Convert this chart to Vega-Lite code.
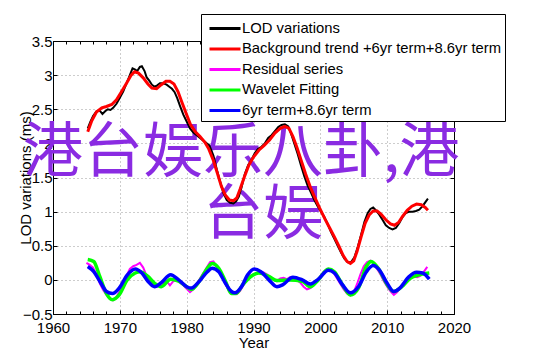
{
  "$schema": "https://vega.github.io/schema/vega-lite/v6.json",
  "width": 401,
  "height": 273,
  "autosize": {"type": "none"},
  "padding": {"left": 53, "top": 41, "right": 88, "bottom": 42},
  "background": "white",
  "config": {
    "view": {"stroke": "black", "strokeWidth": 1},
    "axis": {
      "labelFont": "Liberation Sans", "labelFontSize": 15, "labelColor": "black", "labelFlush": false,
      "titleFont": "Liberation Sans", "titleFontSize": 15, "titleFontWeight": "normal", "titleColor": "black",
      "domainColor": "black", "tickColor": "black", "gridColor": "#9a9a9a", "gridDash": [1, 3]
    },
    "legend": {
      "labelFont": "Liberation Sans", "labelFontSize": 14.8, "labelColor": "black"
    }
  },
  "datasets": {
    "lod": [
      {"year":1965.2,"v":2.22},{"year":1965.6,"v":2.32},{"year":1966.0,"v":2.40},{"year":1966.5,"v":2.47},{"year":1967.0,"v":2.48},{"year":1967.4,"v":2.43},{"year":1967.8,"v":2.47},{"year":1968.2,"v":2.50},{"year":1968.6,"v":2.49},{"year":1969.0,"v":2.52},{"year":1969.5,"v":2.58},{"year":1970.0,"v":2.67},{"year":1970.5,"v":2.76},{"year":1971.0,"v":2.88},{"year":1971.5,"v":3.00},{"year":1971.9,"v":3.10},{"year":1972.3,"v":3.08},{"year":1972.6,"v":3.06},{"year":1973.0,"v":3.12},{"year":1973.3,"v":3.13},{"year":1973.7,"v":3.06},{"year":1974.0,"v":2.97},{"year":1974.4,"v":2.92},{"year":1974.8,"v":2.86},{"year":1975.2,"v":2.83},{"year":1975.6,"v":2.85},{"year":1976.0,"v":2.88},{"year":1976.5,"v":2.88},{"year":1977.0,"v":2.86},{"year":1977.4,"v":2.83},{"year":1977.8,"v":2.80},{"year":1978.2,"v":2.75},{"year":1978.6,"v":2.66},{"year":1979.0,"v":2.55},{"year":1979.5,"v":2.42},{"year":1980.0,"v":2.32},{"year":1980.5,"v":2.22},{"year":1981.0,"v":2.16},{"year":1981.5,"v":2.12},{"year":1982.0,"v":2.08},{"year":1982.5,"v":2.04},{"year":1983.0,"v":2.00},{"year":1983.4,"v":1.97},{"year":1984.0,"v":1.82},{"year":1984.5,"v":1.62},{"year":1985.0,"v":1.44},{"year":1985.5,"v":1.27},{"year":1986.0,"v":1.17},{"year":1986.5,"v":1.13},{"year":1987.0,"v":1.12},{"year":1987.4,"v":1.15},{"year":1987.8,"v":1.22},{"year":1988.2,"v":1.35},{"year":1988.7,"v":1.55},{"year":1989.2,"v":1.68},{"year":1989.7,"v":1.76},{"year":1990.2,"v":1.86},{"year":1990.7,"v":1.92},{"year":1991.2,"v":1.95},{"year":1991.7,"v":2.00},{"year":1992.2,"v":2.08},{"year":1992.7,"v":2.12},{"year":1993.2,"v":2.18},{"year":1993.7,"v":2.24},{"year":1994.2,"v":2.27},{"year":1994.7,"v":2.28},{"year":1995.2,"v":2.25},{"year":1995.6,"v":2.15},{"year":1996.1,"v":2.00},{"year":1996.6,"v":1.85},{"year":1997.1,"v":1.68},{"year":1997.6,"v":1.52},{"year":1998.1,"v":1.38},{"year":1998.6,"v":1.28},{"year":1999.1,"v":1.17},{"year":1999.6,"v":1.08},{"year":2000.1,"v":1.00},{"year":2000.6,"v":0.92},{"year":2001.1,"v":0.82},{"year":2001.6,"v":0.70},{"year":2002.1,"v":0.60},{"year":2002.6,"v":0.50},{"year":2003.1,"v":0.40},{"year":2003.6,"v":0.31},{"year":2004.1,"v":0.26},{"year":2004.6,"v":0.26},{"year":2005.1,"v":0.33},{"year":2005.6,"v":0.48},{"year":2006.1,"v":0.66},{"year":2006.6,"v":0.85},{"year":2007.1,"v":0.98},{"year":2007.5,"v":1.04},{"year":2007.9,"v":1.06},{"year":2008.3,"v":1.02},{"year":2008.8,"v":0.96},{"year":2009.3,"v":0.88},{"year":2009.8,"v":0.80},{"year":2010.3,"v":0.76},{"year":2010.8,"v":0.74},{"year":2011.3,"v":0.76},{"year":2011.8,"v":0.83},{"year":2012.3,"v":0.92},{"year":2012.8,"v":0.98},{"year":2013.3,"v":1.00},{"year":2013.8,"v":1.00},{"year":2014.3,"v":1.01},{"year":2014.8,"v":1.03},{"year":2015.3,"v":1.08},{"year":2015.8,"v":1.15},{"year":2016.1,"v":1.19}
    ],
    "trend": [
      {"year":1965.2,"v":2.17},{"year":1965.8,"v":2.33},{"year":1966.5,"v":2.46},{"year":1967.3,"v":2.52},{"year":1968.0,"v":2.54},{"year":1968.8,"v":2.57},{"year":1969.5,"v":2.64},{"year":1970.2,"v":2.75},{"year":1971.0,"v":2.88},{"year":1971.7,"v":3.00},{"year":1972.2,"v":3.05},{"year":1972.8,"v":3.03},{"year":1973.5,"v":2.96},{"year":1974.2,"v":2.87},{"year":1974.8,"v":2.81},{"year":1975.5,"v":2.80},{"year":1976.2,"v":2.86},{"year":1976.9,"v":2.91},{"year":1977.5,"v":2.91},{"year":1978.1,"v":2.87},{"year":1978.7,"v":2.76},{"year":1979.3,"v":2.60},{"year":1980.0,"v":2.42},{"year":1980.6,"v":2.27},{"year":1981.3,"v":2.17},{"year":1982.0,"v":2.10},{"year":1982.7,"v":2.02},{"year":1983.3,"v":1.92},{"year":1984.0,"v":1.75},{"year":1984.6,"v":1.56},{"year":1985.2,"v":1.37},{"year":1985.8,"v":1.24},{"year":1986.4,"v":1.17},{"year":1987.0,"v":1.16},{"year":1987.5,"v":1.20},{"year":1988.0,"v":1.33},{"year":1988.6,"v":1.50},{"year":1989.3,"v":1.68},{"year":1990.0,"v":1.80},{"year":1990.8,"v":1.90},{"year":1991.6,"v":1.97},{"year":1992.4,"v":2.05},{"year":1993.2,"v":2.15},{"year":1994.0,"v":2.22},{"year":1994.7,"v":2.25},{"year":1995.3,"v":2.22},{"year":1995.9,"v":2.10},{"year":1996.5,"v":1.94},{"year":1997.1,"v":1.76},{"year":1997.8,"v":1.55},{"year":1998.5,"v":1.36},{"year":1999.2,"v":1.20},{"year":1999.9,"v":1.05},{"year":2000.7,"v":0.89},{"year":2001.4,"v":0.76},{"year":2002.1,"v":0.63},{"year":2002.8,"v":0.49},{"year":2003.4,"v":0.36},{"year":2004.0,"v":0.27},{"year":2004.5,"v":0.24},{"year":2005.0,"v":0.28},{"year":2005.5,"v":0.42},{"year":2006.1,"v":0.63},{"year":2006.7,"v":0.83},{"year":2007.3,"v":0.95},{"year":2007.9,"v":1.01},{"year":2008.5,"v":1.01},{"year":2009.1,"v":0.96},{"year":2009.8,"v":0.88},{"year":2010.5,"v":0.82},{"year":2011.1,"v":0.80},{"year":2011.7,"v":0.84},{"year":2012.3,"v":0.93},{"year":2013.0,"v":1.02},{"year":2013.7,"v":1.08},{"year":2014.4,"v":1.11},{"year":2015.1,"v":1.10},{"year":2015.7,"v":1.06},{"year":2016.1,"v":1.02}
    ],
    "resid": [
      {"year":1965.0,"v":0.25},{"year":1965.5,"v":0.22},{"year":1966.0,"v":0.18},{"year":1966.5,"v":0.08},{"year":1967.0,"v":-0.05},{"year":1967.5,"v":-0.15},{"year":1968.0,"v":-0.22},{"year":1968.5,"v":-0.28},{"year":1969.0,"v":-0.30},{"year":1969.5,"v":-0.25},{"year":1970.0,"v":-0.16},{"year":1970.5,"v":-0.06},{"year":1971.0,"v":0.06},{"year":1971.5,"v":0.16},{"year":1972.0,"v":0.20},{"year":1972.5,"v":0.22},{"year":1973.0,"v":0.25},{"year":1973.5,"v":0.18},{"year":1974.0,"v":0.06},{"year":1974.5,"v":-0.02},{"year":1975.0,"v":-0.08},{"year":1975.5,"v":-0.10},{"year":1976.0,"v":-0.08},{"year":1976.5,"v":-0.04},{"year":1977.0,"v":-0.02},{"year":1977.5,"v":-0.08},{"year":1978.0,"v":-0.02},{"year":1978.5,"v":0.00},{"year":1979.0,"v":-0.04},{"year":1979.5,"v":-0.08},{"year":1980.0,"v":-0.13},{"year":1980.5,"v":-0.18},{"year":1981.0,"v":-0.14},{"year":1981.5,"v":-0.06},{"year":1982.0,"v":0.02},{"year":1982.5,"v":0.10},{"year":1983.0,"v":0.18},{"year":1983.5,"v":0.26},{"year":1984.0,"v":0.27},{"year":1984.5,"v":0.20},{"year":1985.0,"v":0.10},{"year":1985.5,"v":0.00},{"year":1986.0,"v":-0.10},{"year":1986.5,"v":-0.19},{"year":1987.0,"v":-0.20},{"year":1987.5,"v":-0.21},{"year":1988.0,"v":-0.16},{"year":1988.5,"v":-0.08},{"year":1989.0,"v":0.00},{"year":1989.5,"v":0.06},{"year":1990.0,"v":0.08},{"year":1990.5,"v":0.10},{"year":1991.0,"v":0.12},{"year":1991.5,"v":0.11},{"year":1992.0,"v":0.08},{"year":1992.5,"v":0.04},{"year":1993.0,"v":0.00},{"year":1993.5,"v":-0.02},{"year":1994.0,"v":0.02},{"year":1994.5,"v":0.03},{"year":1995.0,"v":0.01},{"year":1995.5,"v":0.04},{"year":1996.0,"v":0.03},{"year":1996.5,"v":0.00},{"year":1997.0,"v":-0.04},{"year":1997.5,"v":-0.10},{"year":1998.0,"v":-0.14},{"year":1998.5,"v":-0.12},{"year":1999.0,"v":-0.08},{"year":1999.5,"v":-0.02},{"year":2000.0,"v":0.05},{"year":2000.5,"v":0.12},{"year":2001.0,"v":0.16},{"year":2001.5,"v":0.15},{"year":2002.0,"v":0.10},{"year":2002.5,"v":0.02},{"year":2003.0,"v":-0.06},{"year":2003.5,"v":-0.14},{"year":2004.0,"v":-0.20},{"year":2004.5,"v":-0.23},{"year":2005.0,"v":-0.18},{"year":2005.5,"v":-0.06},{"year":2006.0,"v":0.08},{"year":2006.5,"v":0.20},{"year":2007.0,"v":0.26},{"year":2007.5,"v":0.28},{"year":2008.0,"v":0.24},{"year":2008.5,"v":0.16},{"year":2009.0,"v":0.08},{"year":2009.5,"v":-0.02},{"year":2010.0,"v":-0.10},{"year":2010.5,"v":-0.17},{"year":2011.0,"v":-0.22},{"year":2011.5,"v":-0.18},{"year":2012.0,"v":-0.10},{"year":2012.5,"v":-0.06},{"year":2013.0,"v":-0.02},{"year":2013.5,"v":0.03},{"year":2014.0,"v":0.05},{"year":2014.5,"v":0.04},{"year":2015.0,"v":0.06},{"year":2015.5,"v":0.12},{"year":2016.0,"v":0.19}
    ],
    "wave": [
      {"year":1965.2,"v":0.30},{"year":1966.1,"v":0.27},{"year":1967.0,"v":0.05},{"year":1968.0,"v":-0.20},{"year":1968.9,"v":-0.29},{"year":1969.9,"v":-0.22},{"year":1971.1,"v":0.00},{"year":1972.3,"v":0.10},{"year":1973.0,"v":0.12},{"year":1974.2,"v":0.05},{"year":1975.2,"v":-0.05},{"year":1976.2,"v":-0.10},{"year":1977.6,"v":0.01},{"year":1978.8,"v":-0.02},{"year":1980.0,"v":-0.10},{"year":1980.7,"v":-0.14},{"year":1981.9,"v":-0.02},{"year":1983.1,"v":0.17},{"year":1983.8,"v":0.24},{"year":1984.8,"v":0.17},{"year":1985.8,"v":-0.02},{"year":1986.7,"v":-0.20},{"year":1987.4,"v":-0.20},{"year":1988.4,"v":-0.07},{"year":1989.6,"v":0.05},{"year":1990.8,"v":0.10},{"year":1992.3,"v":0.05},{"year":1993.5,"v":-0.01},{"year":1995.4,"v":0.00},{"year":1997.3,"v":-0.02},{"year":1998.5,"v":-0.10},{"year":1999.7,"v":0.00},{"year":2001.2,"v":0.16},{"year":2002.1,"v":0.12},{"year":2003.3,"v":-0.07},{"year":2004.5,"v":-0.22},{"year":2005.7,"v":-0.12},{"year":2006.9,"v":0.20},{"year":2007.6,"v":0.27},{"year":2008.8,"v":0.15},{"year":2010.0,"v":-0.07},{"year":2011.0,"v":-0.17},{"year":2012.2,"v":-0.10},{"year":2013.4,"v":0.02},{"year":2014.6,"v":0.07},{"year":2016.3,"v":0.10}
    ],
    "terms": [
      {"year":1965.2,"v":0.196},{"year":1966.1,"v":0.12},{"year":1967.0,"v":-0.02},{"year":1968.0,"v":-0.17},{"year":1968.9,"v":-0.20},{"year":1969.9,"v":-0.12},{"year":1971.1,"v":0.07},{"year":1972.3,"v":0.16},{"year":1973.3,"v":0.10},{"year":1974.2,"v":-0.02},{"year":1975.2,"v":-0.10},{"year":1976.2,"v":-0.04},{"year":1977.6,"v":0.075},{"year":1978.8,"v":0.00},{"year":1980.0,"v":-0.10},{"year":1980.7,"v":-0.12},{"year":1981.9,"v":-0.02},{"year":1983.1,"v":0.12},{"year":1983.8,"v":0.17},{"year":1984.8,"v":0.12},{"year":1985.8,"v":-0.05},{"year":1986.7,"v":-0.17},{"year":1987.2,"v":-0.19},{"year":1988.2,"v":-0.10},{"year":1989.1,"v":0.07},{"year":1990.1,"v":0.16},{"year":1991.1,"v":0.12},{"year":1992.3,"v":0.00},{"year":1993.5,"v":-0.10},{"year":1994.4,"v":-0.07},{"year":1995.9,"v":0.04},{"year":1997.3,"v":0.00},{"year":1998.5,"v":-0.06},{"year":1999.7,"v":0.01},{"year":2001.2,"v":0.14},{"year":2002.1,"v":0.10},{"year":2003.3,"v":-0.07},{"year":2004.5,"v":-0.19},{"year":2005.7,"v":-0.10},{"year":2006.9,"v":0.12},{"year":2007.9,"v":0.21},{"year":2008.8,"v":0.15},{"year":2010.0,"v":-0.05},{"year":2011.0,"v":-0.17},{"year":2011.9,"v":-0.12},{"year":2013.2,"v":0.04},{"year":2014.4,"v":0.11},{"year":2015.3,"v":0.10},{"year":2016.3,"v":0.01}
    ],
    "mark": [
      {"t":"港台娱乐八卦,港","year":1988.17,"v":1.84},
      {"t":"台娱","year":1991.47,"v":0.93}
    ]
  },
  "resolve": {"axis": {"x": "independent", "y": "independent"}},
  "layer": [
    {
      "data": {"name": "mark"},
      "mark": {"type": "text", "font": "Noto Sans CJK SC", "fontSize": 60, "color": "#8a2be2", "align": "center", "baseline": "middle", "clip": false},
      "encoding": {
        "x": {"field": "year", "type": "quantitative", "scale": {"domain": [1960, 2020], "nice": false, "zero": false}, "axis": null},
        "y": {"field": "v", "type": "quantitative", "scale": {"domain": [-0.5, 3.5], "nice": false, "zero": false}, "axis": null},
        "text": {"field": "t"}
      }
    },
    {
      "data": {"name": "lod"},
      "mark": {"type": "line", "strokeWidth": 2},
      "encoding": {
        "x": {"field": "year", "type": "quantitative", "scale": {"domain": [1960, 2020], "nice": false, "zero": false},
          "axis": {"orient": "bottom", "values": [1960,1970,1980,1990,2000,2010,2020], "format": "d", "tickSize": -4, "labelPadding": 10, "grid": true, "title": "Year", "titlePadding": 0}},
        "y": {"field": "v", "type": "quantitative", "scale": {"domain": [-0.5, 3.5], "nice": false, "zero": false},
          "axis": {"orient": "left", "values": [-0.5,0,0.5,1,1.5,2,2.5,3,3.5], "format": "~g", "tickSize": -4, "labelPadding": 5, "grid": true, "title": "LOD variations (ms)", "titlePadding": -11}},
        "color": {"datum": "LOD variations", "type": "nominal",
          "scale": {"domain": ["LOD variations","Background trend +6yr term+8.6yr term","Residual series","Wavelet Fitting","6yr term+8.6yr term"], "range": ["#000000","#ff0000","#ff00ff","#00ff00","#0000ff"]},
          "legend": {"orient": "none", "legendX": 148, "legendY": -27, "title": null, "symbolType": "M-0.6,0H2.5", "symbolSize": 400, "symbolStrokeWidth": 3, "labelOffset": 15, "padding": 3, "rowPadding": 1.5, "strokeColor": "black", "fillColor": "white", "labelLimit": 0}}
      }
    },
    {
      "data": {"name": "trend"},
      "mark": {"type": "line", "strokeWidth": 3},
      "encoding": {
        "x": {"field": "year", "type": "quantitative", "scale": {"domain": [1960, 2020], "nice": false, "zero": false},
          "axis": {"orient": "top", "values": [1960,1970,1980,1990,2000,2010,2020], "tickSize": -4, "labels": false, "grid": false, "title": null}},
        "y": {"field": "v", "type": "quantitative", "scale": {"domain": [-0.5, 3.5], "nice": false, "zero": false},
          "axis": {"orient": "right", "values": [-0.5,0,0.5,1,1.5,2,2.5,3,3.5], "tickSize": -4, "labels": false, "grid": false, "title": null}},
        "color": {"datum": "Background trend +6yr term+8.6yr term", "type": "nominal"}
      }
    },
    {
      "data": {"name": "resid"},
      "mark": {"type": "line", "strokeWidth": 2},
      "encoding": {
        "x": {"field": "year", "type": "quantitative", "scale": {"domain": [1960, 2020], "nice": false, "zero": false},
          "axis": {"orient": "bottom", "values": [1962,1964,1966,1968,1972,1974,1976,1978,1982,1984,1986,1988,1992,1994,1996,1998,2002,2004,2006,2008,2012,2014,2016,2018], "tickSize": -3, "labels": false, "grid": false, "domain": false, "title": null}},
        "y": {"field": "v", "type": "quantitative", "scale": {"domain": [-0.5, 3.5], "nice": false, "zero": false}, "axis": null},
        "color": {"datum": "Residual series", "type": "nominal"}
      }
    },
    {
      "data": {"name": "wave"},
      "mark": {"type": "line", "strokeWidth": 3.5, "interpolate": "monotone"},
      "encoding": {
        "x": {"field": "year", "type": "quantitative", "scale": {"domain": [1960, 2020], "nice": false, "zero": false},
          "axis": {"orient": "top", "values": [1962,1964,1966,1968,1972,1974,1976,1978,1982,1984,1986,1988,1992,1994,1996,1998,2002,2004,2006,2008,2012,2014,2016,2018], "tickSize": -3, "labels": false, "grid": false, "domain": false, "title": null}},
        "y": {"field": "v", "type": "quantitative", "scale": {"domain": [-0.5, 3.5], "nice": false, "zero": false}, "axis": null},
        "color": {"datum": "Wavelet Fitting", "type": "nominal"}
      }
    },
    {
      "data": {"name": "terms"},
      "mark": {"type": "line", "strokeWidth": 3.5, "interpolate": "monotone"},
      "encoding": {
        "x": {"field": "year", "type": "quantitative", "scale": {"domain": [1960, 2020], "nice": false, "zero": false}, "axis": null},
        "y": {"field": "v", "type": "quantitative", "scale": {"domain": [-0.5, 3.5], "nice": false, "zero": false}, "axis": null},
        "color": {"datum": "6yr term+8.6yr term", "type": "nominal"}
      }
    }
  ]
}
